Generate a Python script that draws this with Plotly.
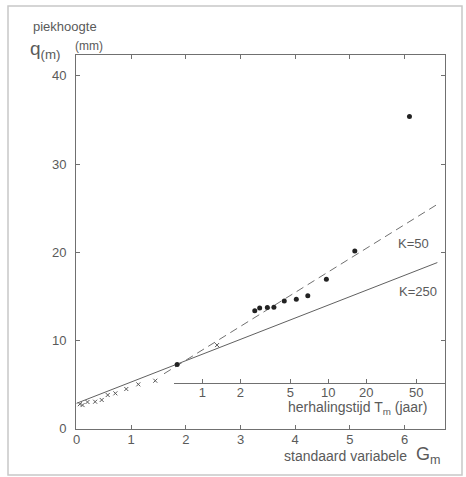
import numpy as np
import plotly.graph_objects as go

# ---- data ----
# standard variable G_m and peak height q (mm)
cross_G = [0.06, 0.11, 0.20, 0.34, 0.46, 0.57, 0.71, 0.91, 1.13, 1.44, 2.57]
cross_q = [2.80, 2.70, 3.05, 3.08, 3.28, 3.84, 4.03, 4.52, 5.05, 5.46, 9.50]
dot_G = [1.84, 3.26, 3.35, 3.49, 3.61, 3.80, 4.02, 4.23, 4.57, 5.09, 6.09]
dot_q = [7.30, 13.40, 13.70, 13.75, 13.80, 14.50, 14.70, 15.10, 16.95, 20.15, 35.40]
# fitted lines
k250_G = [0.0, 6.60]
k250_q = [2.90, 18.85]
k50_G = [1.60, 6.60]
k50_q = [6.25, 25.45]
# return period axis (G = ln(10*T))
T_ticks = [1, 2, 5, 10, 20, 50]
x_ticks = [0, 1, 2, 3, 4, 5, 6]
y_ticks = [0, 10, 20, 30, 40]

ink = "#5a5a5a"
axc = "#707070"
fam = "Liberation Sans, Arial, sans-serif"

xr = [-0.01, 6.74]
yr = [-0.01, 42.37]
g0 = 1.786
d0 = (g0 - xr[0]) / (xr[1] - xr[0])

fig = go.Figure()
fig.add_trace(go.Scatter(x=k250_G, y=k250_q, mode="lines",
                         line=dict(color="#606060", width=1), hoverinfo="skip"))
fig.add_trace(go.Scatter(x=k50_G, y=k50_q, mode="lines",
                         line=dict(color="#707070", width=1, dash="8px,5px"), hoverinfo="skip"))
fig.add_trace(go.Scatter(x=cross_G, y=cross_q, mode="markers",
                         marker=dict(symbol="x-thin", size=4, color=ink,
                                     line=dict(width=1, color=ink))))
fig.add_trace(go.Scatter(x=dot_G, y=dot_q, mode="markers",
                         marker=dict(symbol="circle", size=5, color="#222222")))
tg = [float(np.log(10 * t)) for t in T_ticks]
fig.add_trace(go.Scatter(x=tg, y=[None] * len(tg), xaxis="x2", yaxis="y",
                         mode="markers", marker=dict(opacity=0), hoverinfo="skip"))

fig.update_layout(
    width=466, height=477,
    margin=dict(l=76, r=21, t=55, b=48),
    paper_bgcolor="white", plot_bgcolor="rgba(0,0,0,0)",
    showlegend=False,
    font=dict(family=fam, size=13, color=ink),
    xaxis=dict(range=xr, tickvals=x_ticks, ticks="inside", ticklen=4,
               tickcolor=axc, showline=True, linecolor=axc, linewidth=1,
               mirror="ticks", showgrid=False, zeroline=False,
               ticklabelstandoff=-2,
               tickfont=dict(size=13, color=ink, family=fam)),
    yaxis=dict(range=yr, tickvals=y_ticks, ticks="inside", ticklen=4,
               tickcolor=axc, showline=True, linecolor=axc, linewidth=1,
               mirror="ticks", showgrid=False, zeroline=False,
               ticklabelstandoff=6,
               tickfont=dict(size=13, color=ink, family=fam)),
    xaxis2=dict(domain=[d0, 1], range=[g0, xr[1]], anchor="free",
                position=(429 - 383.3) / 374, side="bottom",
                tickvals=tg, ticktext=[str(t) for t in T_ticks],
                ticks="inside", ticklen=4, tickcolor=axc,
                showline=True, linecolor=axc, linewidth=1,
                showgrid=False, zeroline=False, ticklabelstandoff=-3,
                tickfont=dict(size=13, color=ink, family=fam)),
)

def px2x(px):
    return (px - 76) / 369.0

def px2y(py):
    return (429 - py) / 374.0

ann = [
    ("piekhoogte", 31, 27, 13, "left"),
    ("(mm)", 73, 46, 12, "left"),
    ("herhalingstijd T<sub>m</sub> (jaar)", 286, 408, 14, "left"),
    ("standaard variabele", 282, 456, 14, "left"),
    ("K=50", 396, 243, 13, "left"),
    ("K=250", 397, 291, 13, "left"),
]
for txt, x, y, s, al in ann:
    fig.add_annotation(text=txt, x=px2x(x), y=px2y(y), xref="paper", yref="paper",
                       xanchor=al, yanchor="middle", showarrow=False,
                       font=dict(size=s, color=ink, family=fam))
fig.add_annotation(text="G<sub>m</sub>", x=px2x(414), y=px2y(455), xref="paper", yref="paper",
                   xanchor="left", yanchor="middle", showarrow=False,
                   font=dict(size=18, color=ink, family=fam))
fig.add_annotation(text="q<sub>(m)</sub>", x=px2x(28), y=px2y(50), xref="paper", yref="paper",
                   xanchor="left", yanchor="middle", showarrow=False,
                   font=dict(size=19, color=ink, family=fam))

# outer frame of the figure
fig.add_shape(type="rect", xref="paper", yref="paper",
              x0=px2x(8), x1=px2x(462), y0=px2y(475), y1=px2y(6),
              line=dict(color="#c8c8c8", width=1.5))

fig.write_html("out.html", config={"displayModeBar": False},
               post_script="document.body.style.margin='0';document.body.style.overflow='hidden';")
